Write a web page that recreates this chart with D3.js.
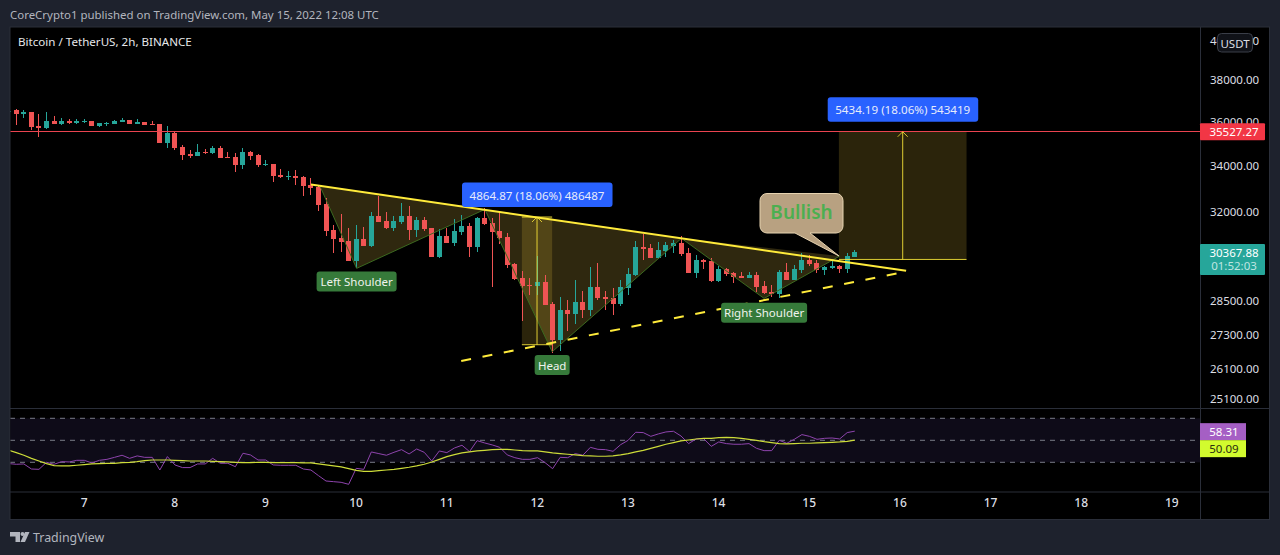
<!DOCTYPE html>
<html>
<head>
<meta charset="utf-8">
<script src="https://cdnjs.cloudflare.com/ajax/libs/d3/7.8.5/d3.min.js"></script>
<style>
html, body { margin: 0; padding: 0; background: #1e222d; overflow: hidden; }
svg { display: block; }
text { font-family: "Noto Sans", sans-serif; }
</style>
</head>
<body>
<div class="chart"></div>
<script>
// 2h bars, first one is May 6 04:00 UTC
var firstBar = Date.UTC(2022, 4, 6, 4);
var barMs = 2 * 3600 * 1000;

var opens = [36440,36530,36361,36438,35796,35704,36025,35887,36025,35933,35995,36025,35796,35887,35887,35980,36071,35887,35980,35887,
  35887,35015,35474,34832,34510,34419,34586,34556,34786,34378,34378,34028,34602,34464,34028,34072,33590,33502,33546,33502,
  33152,33064,32342,31266,30937,30818,30026,30898,30620,31846,31639,31349,31598,31846,31266,31680,31349,30185,31018,30739,
  31183,31432,30581,31763,31556,31225,30977,29907,29368,29103,29065,29216,28386,27074,28166,28020,28460,28166,29027,28649,
  28612,28386,28990,29481,30581,30541,30145,30422,30620,30739,30343,29557,30066,30026,29254,29710,29557,29443,29368,29481,
  29065,28838,28762,29594,29292,29670,30066,29947,29670,29749,29828,29710,30185];
var highs = [36530,36576,36530,36438,36346,36438,36255,36163,36117,36117,36117,36025,35933,35995,36071,36163,36071,36117,35980,36025,
  35887,35796,35520,34923,34694,34969,34740,34878,34878,34602,34556,34786,34648,34510,34247,34072,33853,33765,33809,33546,
  33459,33152,32599,31473,31928,31349,31473,31390,32011,32685,32011,31846,32384,32260,31804,31804,31349,31308,31349,31721,
  31887,31556,31804,32177,31763,32011,31142,29950,29632,29368,30224,29481,28460,28649,28536,29292,28876,29789,29947,28876,
  28990,29292,29749,30818,31101,30700,30779,30779,30858,31018,30541,30264,30106,30145,29828,29749,29594,29594,29594,29594,
  29254,29103,29670,29947,29868,30343,30264,30066,29828,30106,29868,30343,30462];
var lows = [36440,35842,36163,35612,35291,35658,35887,35842,35887,35887,35917,35796,35750,35796,35887,35980,35887,35887,35842,35842,
  35015,34786,34694,34247,34335,34419,34510,34510,34335,34335,33721,33853,34247,33940,33984,33283,33459,33371,33152,32687,
  32728,32040,31018,30343,30383,30026,29749,30620,30581,31598,31308,31225,31515,30858,30977,31225,30185,30145,30739,30620,
  31059,30185,30383,31473,29027,30700,29749,29292,27763,28725,28725,28349,26656,26726,27434,27654,27873,27946,28536,28166,
  27983,28312,28725,29443,30066,30145,30106,30185,30343,30224,29557,29368,29710,29216,29216,29443,29179,29368,29368,28838,
  28762,28649,28612,29292,29292,29557,29828,29557,29481,29710,29557,29557,30185];
var closes = [36500,36346,36438,35750,35704,36025,35887,36025,35933,36025,36040,35796,35933,35933,36025,36071,35887,35980,35842,35842,
  35015,35474,34786,34464,34419,34602,34556,34786,34335,34335,34028,34602,34419,34028,34072,33546,33502,33546,33459,33108,
  33021,32300,31225,30898,30779,30026,30898,30620,31846,31598,31349,31639,31846,31266,31680,31308,30185,31018,30739,31225,
  31432,30581,31763,31515,31183,30937,29868,29330,29065,29065,29216,28349,27074,28166,28020,28460,28166,29027,28612,28573,
  28386,29027,29519,30581,30502,30145,30462,30660,30739,30304,29557,30066,29987,29254,29710,29519,29405,29368,29481,29027,
  28800,28762,29594,29292,29710,30066,29907,29670,29789,29828,29710,30224,30368];

var rsiValues = [28.8,28.2,28.5,23.9,23.6,30,28.2,30.6,30.3,31.8,31.8,29.4,31.8,32.7,34.5,36.4,33.6,35.8,34.5,34.5,
  23,35.2,27.6,25.2,25.2,28.5,28.5,33.6,29.1,29.1,26,38.2,36.7,32.1,32.1,27.6,27.3,27.3,27.3,23.9,
  23,17.9,13,12.4,11.8,10,24.5,23.6,39.4,37.9,36.4,39.1,41.5,37.6,42.1,39.1,31.2,40.3,38.8,43,
  45.5,39.7,49.7,47.6,45.8,43.6,36.7,34.2,32.7,32.7,34.2,29.7,24.2,34.5,34.2,37.9,36.4,43.6,41.8,41.5,
  40,46,50,57.3,57,53.6,55.8,57.6,58.2,53.9,47,51.2,51.5,44.5,48.5,47,46.4,46.4,47,42.7,
  40.6,40.6,50,47.3,50.9,55.2,53.6,50.9,51.8,52.1,51.2,57,58.31];
var rsiAverage = [40.9,38.8,36.4,33.6,31.2,28.8,27,26.7,26.7,27.3,27.9,28.5,28.8,29.1,29.1,29.7,30,30.6,31.5,32.1,
  32.1,32.1,31.8,31.5,31.2,31.2,31.2,30.9,30.6,30.3,30,29.7,29.7,30,30,29.7,29.7,29.7,29.7,29.4,
  29.4,28.5,27.6,26.7,25.8,24.2,22.7,21.8,21.8,22.4,23,23.6,24.5,25.5,26.7,28.2,30.3,32.7,35.2,37,
  38.5,39.4,40.3,40.9,41.5,41.8,41.8,41.2,40.6,40.3,40.3,39.4,38.5,37.9,37.3,36.7,36.1,35.8,35.5,35.5,
  35.8,36.7,37.9,39.4,40.9,42.7,44.5,46.4,47.9,49.4,50.3,51.2,51.8,51.8,52.4,52.7,52.4,51.8,50.9,50,
  48.8,47.9,47,46.7,47,47.3,47.3,47.6,47.9,48.2,48.5,49.1,50.09];

var priceTicks = [40000,38000,36000,34000,32000,28500,27300,26100,25100];
var dayTicks = [7,8,9,10,11,12,13,14,15,16,17,18,19];
var rsiLevels = [70,50,30];

// drawings as [bar index, price]
var patternPoints = [[41.2,33107],[46.05,29746],[63.03,32118],[71.94,26690],[89.06,30932],[100,28606],[110,30224]];
var neckline = [[40,33170],[118.8,29650]];
var supportLine = [[59.9,26370],[118.6,29610]];
var measureA = {from: 67.93, to: 71.94, low: 26935, high: 31800, label: "4864.87 (18.06%) 486487"};
var measureB = {from: 109.9, to: 126.8, low: 30093.08, high: 35527.27, label: "5434.19 (18.06%) 543419"};
var patternLabels = [["Left Shoulder",46.05,29240,80],["Head",71.94,26232,35],["Right Shoulder",100,28080,86]];
var targetPrice = 35527.27;
var lastPrice = 30367.88;
var countdown = "01:52:03";
var lastRsi = 58.31;
var lastRsiAvg = 50.09;

var width = 1280, height = 555;
var paneLeft = 10, paneRight = 1200, outerRight = 1269.5;
var paneTop = 27, paneBottom = 408.5, rsiBottom = 492, chartBottom = 519.5;

var svg = d3.select(".chart").append("svg")
  .attr("width", width)
  .attr("height", height);

var x = d3.scaleUtc()
  .domain([new Date(Date.UTC(2022, 4, 7)), new Date(Date.UTC(2022, 4, 19))])
  .range([84.3, 1172]);
var barX = function(i) { return x(new Date(firstBar + i * barMs)); };
var snapX = function(i) { return Math.floor(barX(i)) + 0.5; };

var y = d3.scaleLog()
  .domain([38000, 25100])
  .range([80, 399]);
var rsiY = d3.scaleLinear()
  .domain([70, 30])
  .range([418.3, 462.3]);

var pt = function(d) { return barX(d[0]) + "," + y(d[1]); };

// chart frame
svg.append("rect")
  .attr("x", paneLeft).attr("y", paneTop)
  .attr("width", outerRight - paneLeft).attr("height", chartBottom - paneTop)
  .attr("fill", "#000")
  .attr("stroke", "#2a2e39");

svg.append("defs").append("clipPath").attr("id", "pane")
  .append("rect")
  .attr("x", paneLeft + 0.5).attr("y", paneTop)
  .attr("width", paneRight - paneLeft).attr("height", rsiBottom - paneTop);

var plot = svg.append("g").attr("clip-path", "url(#pane)");

// pattern fill, one triangle per shoulder/head
var tri = [[0,1,2],[2,3,4],[4,5,6]];
plot.selectAll(".tri").data(tri).enter().append("polygon")
  .attr("class", "tri")
  .attr("points", function(d) { return d.map(function(k) { return pt(patternPoints[k]); }).join(" "); })
  .attr("fill", "#2f280f");

// measure boxes
var measures = [measureA, measureB];
plot.selectAll(".measure").data(measures).enter().append("rect")
  .attr("class", "measure")
  .attr("x", function(d) { return barX(d.from); })
  .attr("width", function(d) { return barX(d.to) - barX(d.from); })
  .attr("y", function(d) { return y(d.high); })
  .attr("height", function(d) { return y(d.low) - y(d.high); })
  .attr("fill", "#ffd740")
  .attr("fill-opacity", 0.17);

// candles
var bars = d3.range(opens.length);
var candles = plot.selectAll(".candle").data(bars).enter().append("g")
  .attr("class", "candle")
  .attr("fill", function(i) { return closes[i] >= opens[i] ? "#26a69a" : "#f05454"; })
  .attr("stroke", function(i) { return closes[i] >= opens[i] ? "#26a69a" : "#f05454"; })
  .attr("shape-rendering", "crispEdges");
candles.append("line")
  .attr("x1", snapX).attr("x2", snapX)
  .attr("y1", function(i) { return y(highs[i]); })
  .attr("y2", function(i) { return y(lows[i]); });
candles.append("rect")
  .attr("stroke", "none")
  .attr("x", function(i) { return snapX(i) - 2.5; })
  .attr("width", 5)
  .attr("y", function(i) { return Math.round(y(Math.max(opens[i], closes[i]))); })
  .attr("height", function(i) { return Math.max(1, Math.round(Math.abs(y(opens[i]) - y(closes[i])))); });

// pattern outline
plot.append("polyline")
  .attr("points", patternPoints.map(pt).join(" "))
  .attr("fill", "none")
  .attr("stroke", "#3c6a20")
  .attr("stroke-width", 1);

// target line
plot.append("line")
  .attr("x1", paneLeft).attr("x2", paneRight)
  .attr("y1", Math.floor(y(targetPrice)) + 0.5).attr("y2", Math.floor(y(targetPrice)) + 0.5)
  .attr("stroke", "#ea4450")
  .attr("shape-rendering", "crispEdges");

// measure edges and arrows
measures.forEach(function(m) {
  var mid = (barX(m.from) + barX(m.to)) / 2;
  plot.append("line")
    .attr("x1", barX(m.from)).attr("x2", barX(m.to))
    .attr("y1", y(m.low)).attr("y2", y(m.low))
    .attr("stroke", "#ffeb3b").attr("stroke-opacity", 0.85);
  if (m === measureA) {
    plot.append("line")
      .attr("x1", barX(m.from)).attr("x2", barX(m.to))
      .attr("y1", y(m.high)).attr("y2", y(m.high))
      .attr("stroke", "#ffeb3b").attr("stroke-opacity", 0.85);
  }
  plot.append("line")
    .attr("x1", mid).attr("x2", mid)
    .attr("y1", y(m.low)).attr("y2", y(m.high))
    .attr("stroke", "#ffeb3b").attr("stroke-opacity", 0.85);
  plot.append("polyline")
    .attr("points", (mid - 5) + "," + (y(m.high) + 5) + " " + mid + "," + y(m.high) + " " + (mid + 5) + "," + (y(m.high) + 5))
    .attr("fill", "none")
    .attr("stroke", "#ffeb3b").attr("stroke-opacity", 0.8);
});

// neckline + support
plot.append("line")
  .attr("x1", barX(neckline[0][0])).attr("y1", y(neckline[0][1]))
  .attr("x2", barX(neckline[1][0])).attr("y2", y(neckline[1][1]))
  .attr("stroke", "#ffeb3b").attr("stroke-width", 2);
plot.append("line")
  .attr("x1", barX(supportLine[0][0])).attr("y1", y(supportLine[0][1]))
  .attr("x2", barX(supportLine[1][0])).attr("y2", y(supportLine[1][1]))
  .attr("stroke", "#ffeb3b").attr("stroke-width", 2)
  .attr("stroke-dasharray", "10 11.7");

// blue measure labels
measures.forEach(function(m) {
  var mid = (barX(m.from) + barX(m.to)) / 2;
  var top = y(m.high) - 34.5;
  svg.append("rect")
    .attr("x", mid - 75).attr("y", top)
    .attr("width", 150.5).attr("height", 24.5).attr("rx", 3)
    .attr("fill", "#2962ff");
  svg.append("text")
    .attr("x", mid).attr("y", top + 12.5)
    .attr("text-anchor", "middle").attr("dominant-baseline", "central")
    .attr("font-size", 11.6).attr("fill", "#e6ebfb")
    .text(m.label);
});

// pattern labels
patternLabels.forEach(function(d) {
  var cx = barX(d[1]), top = y(d[2]) - 10;
  svg.append("rect")
    .attr("x", cx - d[3] / 2).attr("y", top)
    .attr("width", d[3]).attr("height", 20).attr("rx", 3)
    .attr("fill", "#367a3a");
  svg.append("text")
    .attr("x", cx).attr("y", top + 10)
    .attr("text-anchor", "middle").attr("dominant-baseline", "central")
    .attr("font-size", 11.5).attr("fill", "#f0f3ee")
    .text(d[0]);
});

// Bullish callout
svg.append("path")
  .attr("d", "M767,193.5H836a7,7 0 0 1 7,7V226a7,7 0 0 1 -7,7H810L839,256L795,233H767a7,7 0 0 1 -7,-7V200.5a7,7 0 0 1 7,-7Z")
  .attr("fill", "#b8a181")
  .attr("stroke", "#e6d3b0");
svg.append("text")
  .attr("x", 801.5).attr("y", 212)
  .attr("text-anchor", "middle").attr("dominant-baseline", "central")
  .attr("font-size", 19).attr("font-weight", 600).attr("fill", "#4caf50")
  .text("Bullish");

// rsi pane
plot.append("rect")
  .attr("x", paneLeft).attr("width", paneRight - paneLeft)
  .attr("y", rsiY(70)).attr("height", rsiY(30) - rsiY(70))
  .attr("fill", "#0e0b18");
plot.selectAll(".level").data(rsiLevels).enter().append("line")
  .attr("class", "level")
  .attr("x1", paneLeft).attr("x2", paneRight)
  .attr("y1", rsiY).attr("y2", rsiY)
  .attr("stroke", "#787b86")
  .attr("stroke-dasharray", "5 5");

var rsiLine = d3.line()
  .x(function(d, i) { return barX(i); })
  .y(function(d) { return rsiY(d); });
plot.append("path").attr("d", rsiLine(rsiValues))
  .attr("fill", "none").attr("stroke", "#8e44ad").attr("stroke-width", 1);
plot.append("path").attr("d", rsiLine(rsiAverage))
  .attr("fill", "none").attr("stroke", "#cddc39").attr("stroke-width", 1.2);

// separators
var sep = [[paneLeft, paneBottom, outerRight, paneBottom], [paneLeft, rsiBottom, outerRight, rsiBottom], [paneRight + 0.5, paneTop, paneRight + 0.5, chartBottom]];
svg.selectAll(".sep").data(sep).enter().append("line")
  .attr("class", "sep")
  .attr("x1", function(d) { return d[0]; }).attr("y1", function(d) { return d[1]; })
  .attr("x2", function(d) { return d[2]; }).attr("y2", function(d) { return d[3]; })
  .attr("stroke", "#2a2e39");

// axes
var yAxis = d3.axisRight(y).tickValues(priceTicks).tickSize(0).tickPadding(0).tickFormat(d3.format(".2f"));
var gy = svg.append("g").attr("transform", "translate(1210,0)").call(yAxis);
gy.select(".domain").remove();
gy.selectAll("text").attr("font-size", 11.5).attr("fill", "#dcdee3").style("font-family", '"Noto Sans", sans-serif');

var xAxis = d3.axisBottom(x)
  .tickValues(dayTicks.map(function(d) { return new Date(Date.UTC(2022, 4, d)); }))
  .tickSize(0).tickPadding(0)
  .tickFormat(d3.utcFormat("%-d"));
var gx = svg.append("g").attr("transform", "translate(-0.7,498)").call(xAxis);
gx.select(".domain").remove();
gx.selectAll("text").attr("font-size", 12).attr("font-weight", 500).attr("fill", "#dcdee3").style("font-family", '"Noto Sans", sans-serif');

// price tags
svg.append("rect").attr("x", paneRight).attr("y", y(targetPrice) - 8.5)
  .attr("width", 65).attr("height", 17).attr("rx", 1).attr("fill", "#f23645");
svg.append("text").attr("x", 1234).attr("y", y(targetPrice))
  .attr("text-anchor", "middle").attr("dominant-baseline", "central")
  .attr("font-size", 11.5).attr("fill", "#fff").text(d3.format(".2f")(targetPrice));

svg.append("rect").attr("x", paneRight).attr("y", y(lastPrice) - 8.5)
  .attr("width", 65).attr("height", 31).attr("rx", 1).attr("fill", "#26a69a");
svg.append("text").attr("x", 1234).attr("y", y(lastPrice))
  .attr("text-anchor", "middle").attr("dominant-baseline", "central")
  .attr("font-size", 11.5).attr("fill", "#fff").text(d3.format(".2f")(lastPrice));
svg.append("text").attr("x", 1234).attr("y", y(lastPrice) + 13)
  .attr("text-anchor", "middle").attr("dominant-baseline", "central")
  .attr("font-size", 11.5).attr("fill", "#bfe5e1").text(countdown);

// rsi tags, pushed apart like the original
svg.append("rect").attr("x", paneRight).attr("y", rsiY(lastRsi) - 8)
  .attr("width", 46).attr("height", 17).attr("fill", "#a55fc4");
svg.append("text").attr("x", 1224).attr("y", rsiY(lastRsi) + 0.5)
  .attr("text-anchor", "middle").attr("dominant-baseline", "central")
  .attr("font-size", 11.5).attr("fill", "#fff").text(lastRsi.toFixed(2));
svg.append("rect").attr("x", paneRight).attr("y", rsiY(lastRsi) + 9)
  .attr("width", 46).attr("height", 17).attr("fill", "#d2fb2e");
svg.append("text").attr("x", 1224).attr("y", rsiY(lastRsi) + 17.5)
  .attr("text-anchor", "middle").attr("dominant-baseline", "central")
  .attr("font-size", 11.5).attr("fill", "#2a2e10").text(lastRsiAvg.toFixed(2));

// USDT badge
svg.append("rect").attr("x", 1217.5).attr("y", 33.5)
  .attr("width", 35).attr("height", 18.5).attr("rx", 4)
  .attr("fill", "#101218").attr("stroke", "#3a3e48");
svg.append("text").attr("x", 1235).attr("y", 43)
  .attr("text-anchor", "middle").attr("dominant-baseline", "central")
  .attr("font-size", 11.5).attr("fill", "#dcdee3").text("USDT");

// header + title
svg.append("text").attr("x", 10).attr("y", 14)
  .attr("dominant-baseline", "central")
  .attr("font-size", 11.45).attr("fill", "#b2b5be")
  .text("CoreCrypto1 published on TradingView.com, May 15, 2022 12:08 UTC");
svg.append("text").attr("x", 18).attr("y", 41.5)
  .attr("dominant-baseline", "central")
  .attr("font-size", 11.6).attr("fill", "#e6e7ea")
  .text("Bitcoin / TetherUS, 2h, BINANCE");

// footer logo
var logo = svg.append("g").attr("fill", "#b2b5be");
logo.append("path").attr("d", "M10,532H20V542H15.5V536.5H10Z");
logo.append("circle").attr("cx", 22.5).attr("cy", 534).attr("r", 2);
logo.append("path").attr("d", "M25,532H29.5L25,542H20.5Z");
svg.append("text").attr("x", 33).attr("y", 537.5)
  .attr("dominant-baseline", "central")
  .attr("font-size", 12.4).attr("fill", "#b2b5be")
  .text("TradingView");
</script>
</body>
</html>
